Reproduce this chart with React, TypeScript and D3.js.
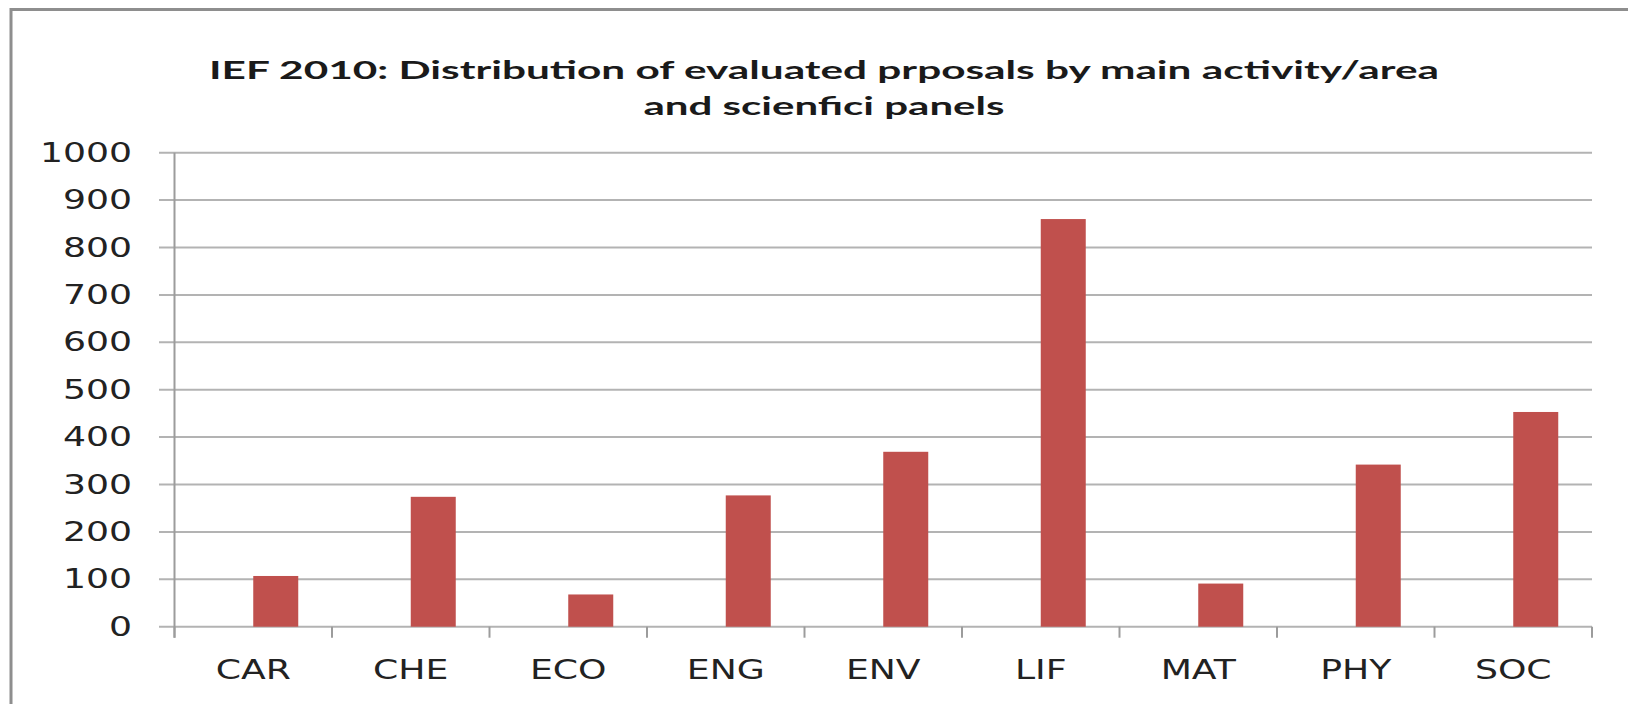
import * as d3 from "d3";
import { useEffect, useRef } from "react";

const categories = ["CAR", "CHE", "ECO", "ENG", "ENV", "LIF", "MAT", "PHY", "SOC"];
const proposals = [107, 274, 68, 277, 369, 860, 91, 342, 453];
const yTickValues = [0, 100, 200, 300, 400, 500, 600, 700, 800, 900, 1000];
const titleLines = [
    "IEF 2010: Distribution of evaluated prposals by main activity/area",
    "and scienfici panels",
];

function barChart(svgEl: SVGSVGElement) {
    const width = 1628;
    const height = 704;
    const left = 174.5;
    const right = 1592;
    const top = 152.7;
    const bottom = 626.7;
    const labelFont = "'DejaVu Sans', Verdana, sans-serif";
    const stretch = 1.34;

    const svg = d3.select(svgEl);
    svg.selectAll("*").remove();
    svg.attr("width", width).attr("height", height);

    svg.append("rect").attr("width", width).attr("height", height).attr("fill", "#fff");

    // outer frame of the original picture (cut off at right/bottom)
    svg.append("rect")
        .attr("x", 11).attr("y", 9.5)
        .attr("width", 1660).attr("height", 760)
        .attr("fill", "none")
        .attr("stroke", "#8e8e8e")
        .attr("stroke-width", 3);

    const x = d3.scaleBand<string>().domain(categories).range([left, right]).padding(0);
    const y = d3.scaleLinear().domain([0, 1000]).range([bottom, top]);

    // horizontal gridlines (with small ticks left of the axis)
    svg.append("g")
        .selectAll("line")
        .data(yTickValues)
        .enter()
        .append("line")
        .attr("x1", left - 15.5)
        .attr("x2", right)
        .attr("y1", d => y(d))
        .attr("y2", d => y(d))
        .attr("stroke", "#b3b3b3")
        .attr("stroke-width", 2);

    // y axis line
    svg.append("line")
        .attr("x1", left).attr("x2", left)
        .attr("y1", top).attr("y2", bottom + 11)
        .attr("stroke", "#9c9c9c")
        .attr("stroke-width", 2);

    // x ticks at band edges
    const edges = categories.map(c => x(c) as number).concat([right]);
    svg.append("g")
        .selectAll("line")
        .data(edges)
        .enter()
        .append("line")
        .attr("x1", d => d).attr("x2", d => d)
        .attr("y1", bottom).attr("y2", bottom + 11)
        .attr("stroke", "#9c9c9c")
        .attr("stroke-width", 2);

    // bars sit in the right half of each cluster (first series slot is empty)
    const barW = x.bandwidth() * 2 / 7;
    svg.append("g")
        .selectAll("rect")
        .data(proposals)
        .enter()
        .append("rect")
        .attr("x", (d, i) => (x(categories[i]) as number) + x.bandwidth() / 2)
        .attr("y", d => y(d))
        .attr("width", barW)
        .attr("height", d => bottom - y(d))
        .attr("fill", "#c0504d");

    // y labels
    const yAxis = svg.append("g")
        .attr("transform", `translate(${left},0)`)
        .call(d3.axisLeft(y).tickValues(yTickValues).tickFormat(d3.format("d")).tickSize(0).tickPadding(42.5));
    yAxis.select(".domain").remove();
    yAxis.selectAll("text")
        .attr("font-family", labelFont)
        .attr("font-size", 27)
        .attr("fill", "#222");

    // x labels
    const xAxis = svg.append("g")
        .attr("transform", `translate(0,${bottom})`)
        .call(d3.axisBottom(x).tickSize(0).tickPadding(33));
    xAxis.select(".domain").remove();
    xAxis.selectAll("text")
        .attr("font-family", labelFont)
        .attr("font-size", 27)
        .attr("fill", "#222");

    // widen the label glyphs like the stretched original
    svg.selectAll<SVGTextElement, unknown>(".tick text").each(function () {
        const len = this.getComputedTextLength();
        d3.select(this)
            .attr("textLength", len * stretch)
            .attr("lengthAdjust", "spacingAndGlyphs");
    });

    // title
    const titleWidths = [1230, 361];
    const titleBase = [79, 115];
    svg.append("g")
        .selectAll("text")
        .data(titleLines)
        .enter()
        .append("text")
        .text(d => d)
        .attr("x", 824)
        .attr("y", (d, i) => titleBase[i])
        .attr("text-anchor", "middle")
        .attr("font-family", "Lato, 'Open Sans', sans-serif")
        .attr("font-weight", "bold")
        .attr("font-size", 24)
        .attr("fill", "#1a1a1a")
        .attr("textLength", (d, i) => titleWidths[i])
        .attr("lengthAdjust", "spacingAndGlyphs");
}

export default function App() {
    const svgRef = useRef<SVGSVGElement>(null);
    useEffect(() => {
        if (svgRef.current) barChart(svgRef.current);
    }, []);

    return (
        <svg ref={svgRef} style={{ position: "absolute", left: 0, top: 0, display: "block" }} />
    );
}
